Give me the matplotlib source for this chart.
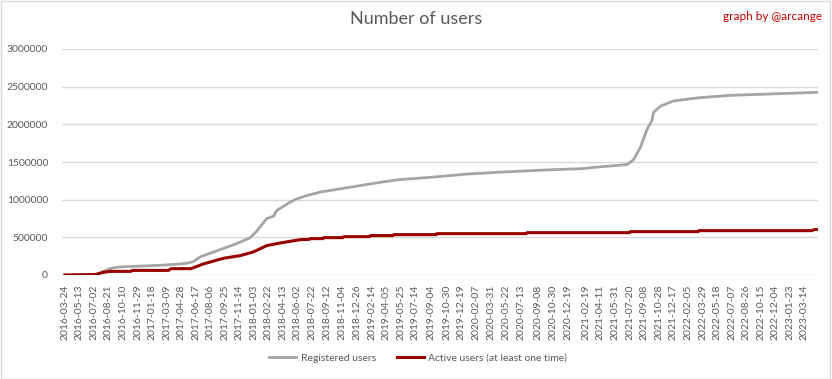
import matplotlib
matplotlib.use("Agg")
import matplotlib.pyplot as plt
import matplotlib.dates as mdates
from matplotlib.patches import Rectangle
from matplotlib.ticker import FuncFormatter
import pandas as pd

plt.rcParams['font.family'] = ['Lato', 'DejaVu Sans']

# registered users
reg_dates = ["2016-03-24", "2016-07-02", "2016-07-11", "2016-08-26", "2016-09-24",
             "2016-12-19", "2017-03-09", "2017-05-17", "2017-06-09", "2017-07-02",
             "2017-09-09", "2017-11-05", "2017-12-21", "2018-01-13", "2018-02-17",
             "2018-03-12", "2018-03-23", "2018-05-08", "2018-05-31", "2018-07-05",
             "2018-08-19", "2018-12-01", "2019-03-14", "2019-05-22", "2019-09-14",
             "2020-01-07", "2020-04-30", "2020-08-23", "2020-12-16", "2021-01-31",
             "2021-04-10", "2021-07-11", "2021-08-03", "2021-08-26", "2021-09-18",
             "2021-10-05", "2021-10-11", "2021-11-03", "2021-12-18", "2022-03-09",
             "2022-07-02", "2022-10-24", "2023-02-16", "2023-04-28"]
reg_users = [0, 5000, 10000, 84000, 106000,
             120000, 133000, 155000, 177000, 240000,
             336000, 416000, 492000, 580000, 749000,
             780000, 855000, 966000, 1010000, 1055000,
             1100000, 1165000, 1230000, 1267000, 1300000,
             1340000, 1365000, 1387000, 1405000, 1410000,
             1436000, 1465000, 1530000, 1690000, 1930000,
             2050000, 2160000, 2240000, 2310000, 2350000,
             2385000, 2400000, 2415000, 2425000]

# active users (at least one time)
act_dates = ["2016-03-24", "2016-06-29", "2016-07-11", "2016-08-03", "2016-08-26",
             "2016-11-05", "2016-11-12", "2017-03-16", "2017-03-24", "2017-06-01",
             "2017-06-08", "2017-07-13", "2017-09-20", "2017-11-17", "2018-01-02",
             "2018-02-17", "2018-04-04", "2018-06-12", "2018-07-14", "2018-07-17",
             "2018-08-29", "2018-09-01", "2018-11-06", "2018-11-09", "2019-02-06",
             "2019-02-09", "2019-04-27", "2019-04-30", "2019-09-23", "2019-09-26",
             "2020-07-29", "2020-08-01", "2021-07-20", "2021-07-23", "2022-03-13",
             "2022-03-16", "2023-04-10", "2023-04-15", "2023-04-28"]
act_users = [0, 5000, 10000, 35000, 48000,
             48000, 61000, 61000, 84000, 84000,
             95000, 146000, 221000, 257000, 306000,
             390000, 425000, 469000, 473000, 483000,
             483000, 496000, 496000, 509000, 509000,
             523000, 523000, 536000, 536000, 549000,
             549000, 562000, 562000, 576000, 576000,
             589000, 589000, 602000, 604000]

tick_labels = ["2016-03-24", "2016-05-13", "2016-07-02", "2016-08-21", "2016-10-10",
               "2016-11-29", "2017-01-18", "2017-03-09", "2017-04-28", "2017-06-17",
               "2017-08-06", "2017-09-25", "2017-11-14", "2018-01-03", "2018-02-22",
               "2018-04-13", "2018-06-02", "2018-07-22", "2018-09-12", "2018-11-04",
               "2018-12-26", "2019-02-14", "2019-04-05", "2019-05-25", "2019-07-14",
               "2019-09-04", "2019-10-30", "2019-12-19", "2020-02-07", "2020-03-31",
               "2020-05-22", "2020-07-13", "2020-09-08", "2020-10-30", "2020-12-19",
               "2021-02-19", "2021-04-11", "2021-05-31", "2021-07-20", "2021-09-08",
               "2021-10-28", "2021-12-17", "2022-02-05", "2022-03-29", "2022-05-18",
               "2022-07-07", "2022-08-26", "2022-10-15", "2022-12-04", "2023-01-23",
               "2023-03-14"]

fig = plt.figure(figsize=(8.32, 3.79), dpi=100)
ax = fig.add_axes([62 / 832, 1 - 275 / 379, (818 - 62) / 832, (275 - 49) / 379])

ax.plot(pd.to_datetime(reg_dates), reg_users, color='#a5a5a5', lw=2.0,
        label='Registered users', solid_joinstyle='round')
ax.plot(pd.to_datetime(act_dates), act_users, color='#990000', lw=2.2,
        label='Active users (at least one time)', solid_joinstyle='round')

ax.set_ylim(0, 3000000)
ax.set_yticks(range(0, 3000001, 500000))
ax.yaxis.set_major_formatter(FuncFormatter(lambda v, p: f"{int(v)}"))
ax.set_xlim(mdates.date2num(pd.Timestamp("2016-03-14")),
            mdates.date2num(pd.Timestamp("2023-04-30")))
ax.set_xticks(pd.to_datetime(tick_labels))
ax.set_xticklabels(tick_labels, rotation=90)

ax.grid(axis='y', color='#d9d9d9', lw=1)
ax.set_axisbelow(True)
for s in ax.spines.values():
    s.set_visible(False)
ax.tick_params(axis='both', length=0, labelsize=7.5, labelcolor='#595959')
ax.tick_params(axis='y', pad=10)
ax.tick_params(axis='x', pad=7)

fig.text(0.5, 1 - 19 / 379, "Number of users", ha='center', va='center',
         fontsize=13, color='#595959')
fig.text(822 / 832, 1 - 16 / 379, "graph by @arcange", ha='right', va='center',
         fontsize=8.5, color='#c00000')

fig.legend(loc='center', bbox_to_anchor=(418 / 832, 1 - 358 / 379), ncol=2,
           frameon=False, fontsize=7.5, handlelength=2.6, handletextpad=0.4,
           columnspacing=2.0, labelcolor='#595959')

fig.patches.append(Rectangle((0.5 / 832, 0.5 / 379), 829 / 832, 377.5 / 379,
                             transform=fig.transFigure, fill=False,
                             edgecolor='#d9d9d9', lw=1))

fig.savefig("out.png", dpi=100)
